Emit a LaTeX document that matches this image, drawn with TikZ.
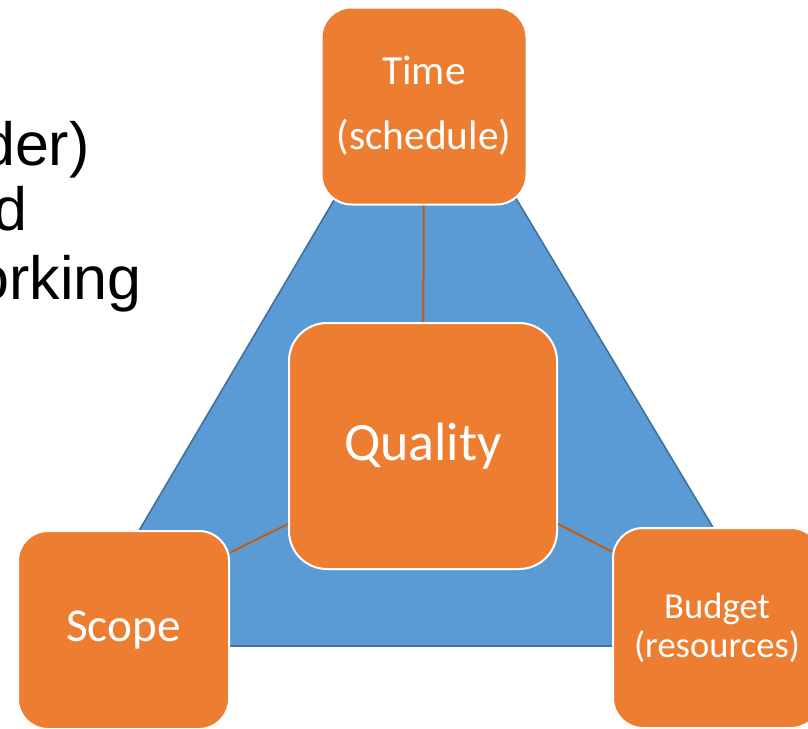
\documentclass[tikz,border=0pt]{standalone}
\usepackage{fontspec}
\setmainfont{Carlito}
\newfontfamily\slidefont{Liberation Sans}
\usepackage{xcolor}
\usepackage{tikz}
\usetikzlibrary{positioning}
\definecolor{triorange}{HTML}{ED7D31}
\definecolor{triblue}{HTML}{5B9BD5}
\definecolor{triedge}{HTML}{41719C}
\definecolor{lnkorange}{HTML}{C55A11}
\tikzset{
  pbox/.style={draw=white,fill=triorange,line width=1pt,rounded corners=15pt,text=white,align=center,inner sep=0pt},
  lnk/.style={draw=lnkorange,line width=1pt},
  slide/.style={anchor=base east,inner sep=0pt,font=\slidefont\fontsize{30.5}{36}\selectfont},
}

\begin{document}
\begin{tikzpicture}[x=0.5pt,y=-0.5pt]
  \clip (0,0) rectangle (808,728);
  % slide text, cut off on the left
  \node[slide] (s1) at (90,165) {der)};
  \node[slide] (s2) at (28,230) {d};
  \node[slide] (s3) at (142,299) {orking};
  % triangle behind the boxes
  \draw[fill=triblue,draw=triedge,line width=0.8pt] (337,195) -- (514,195) -- (784,646) -- (71,646) -- cycle;
  \node[pbox,minimum width=102.5pt,minimum height=98.5pt,font=\fontsize{20.7}{32.5}\selectfont] (time) at (424,106) {Time\\(schedule)};
  \node[pbox,minimum width=134pt,minimum height=123pt,rounded corners=19pt,font=\fontsize{27}{32}\selectfont] (qual) at (423,446) {Quality};
  \node[pbox,minimum width=105.5pt,minimum height=99pt,font=\fontsize{23.6}{28}\selectfont] (scope) at (123.5,630) {Scope};
  \node[pbox,minimum width=104pt,minimum height=100pt,font=\fontsize{18.3}{19.5}\selectfont] (budget) at (717,628) {Budget\\(resources)};
  \draw[lnk] (time) -- (qual);
  \draw[lnk] (qual.210) -- (scope.36);
  \draw[lnk] (qual.330) -- (budget.144);
\end{tikzpicture}
\end{document}
